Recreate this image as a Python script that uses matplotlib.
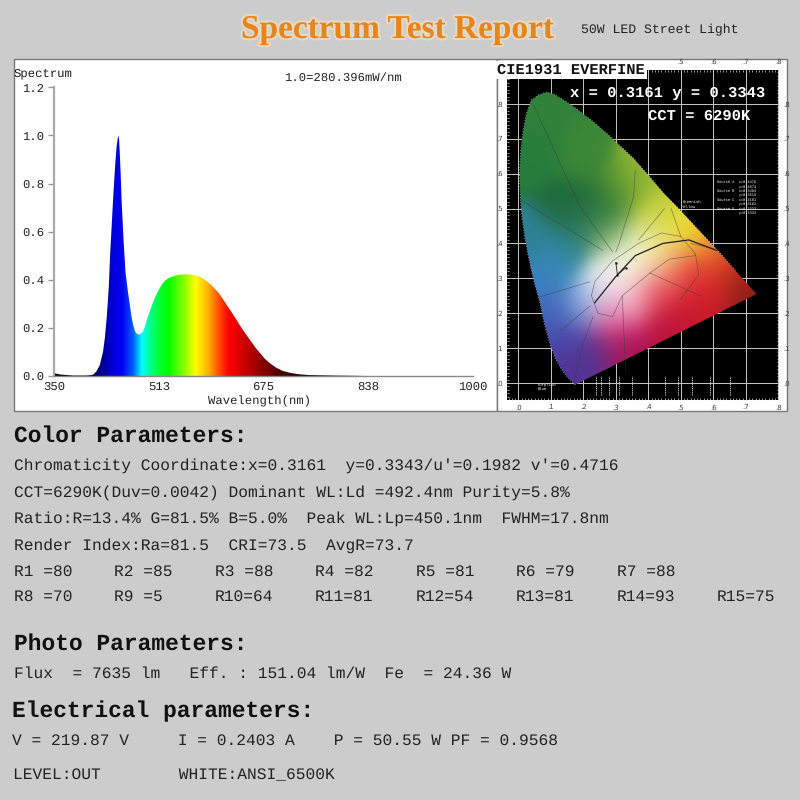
import numpy as np
import matplotlib
matplotlib.use('Agg')
import matplotlib.pyplot as plt
import matplotlib.patheffects as pe
from matplotlib.patches import Rectangle, Polygon

plt.rcParams['text.hinting'] = 'no_hinting'

# spectrum curve
wavelength = [350, 360, 380, 400, 405, 411, 416, 421, 426, 429, 432, 435, 437, 440, 442, 445, 447, 449, 450,
              451, 452, 454, 455, 458, 461, 465, 468, 470, 473, 476, 478, 481, 484, 488, 491, 494, 499, 504, 509,
              514, 519, 525, 531, 538, 545, 553, 560, 568, 576, 584, 592, 600, 608, 615, 623, 631, 638, 646, 654,
              662, 670, 677, 685, 695, 705, 718, 731, 745, 760, 783, 810, 835, 1000]
intensity = [.012, .006, .002, .002, .003, .006, .02, .045, .1, .16, .25, .37, .5, .65, .75, .88, .95, .99, 1.0,
             .98, .93, .8, .72, .56, .43, .344, .29, .25, .21, .184, .177, .172, .175, .184, .205, .233, .272, .309, .34,
             .365, .387, .402, .411, .417, .421, .423, .422, .419, .413, .40, .383, .362, .336, .307, .275, .243, .212, .18, .15,
             .12, .094, .072, .053, .034, .021, .012, .007, .004, .003, .002, .001, 0, 0]

# colour of the fill along the wavelength axis
stop_nm = [350, 400, 421, 440, 455, 472, 486, 500, 515, 527, 550, 569, 590, 605, 620, 640, 660, 681, 705, 750, 1000]
stop_r = [0, 0, 0, 0, 0, 0, 0, 0, 0, 0, 130, 255, 255, 255, 255, 215, 170, 120, 70, 10, 0]
stop_g = [0, 0, 0, 0, 0, 90, 255, 255, 255, 255, 255, 255, 170, 80, 0, 0, 0, 0, 0, 0, 0]
stop_b = [0, 40, 128, 215, 240, 255, 255, 130, 40, 0, 0, 0, 0, 0, 0, 0, 0, 0, 0, 0, 0]

y_ticks = [0.0, 0.2, 0.4, 0.6, 0.8, 1.0, 1.2]
x_ticks = [350, 513, 675, 838, 1000]

# CIE 1931 horseshoe outline
locus_x = [.175, .15, .133, .115, .10, .082, .067, .052, .04, .029, .02, .012, .007, .005, .005, .008, .015, .025, .04, .062, .087,
           .108, .128, .165, .20, .235, .272, .312, .355, .40, .447, .49, .53, .57, .61, .67, .733]
locus_y = [-.005, .018, .04, .07, .105, .165, .23, .28, .325, .375, .42, .475, .525, .575, .62, .665, .72, .77, .81, .825, .833,
           .828, .817, .795, .77, .745, .715, .68, .643, .595, .544, .503, .463, .423, .383, .32, .255]

# colour anchors inside the diagram
anchor_x = [.09, .05, .2, .15, .25, .32, .38, .43, .5, .42, .57, .62, .68, .73, .55, .55, .45, .42, .33, .3, .36, .25, .18, .15, .1, .2, .07, .13, .05, .18, .3, .36, .26, .43, .36, .31, .28, .48]
anchor_y = [.8, .65, .65, .5, .5, .55, .6, .5, .44, .43, .41, .36, .3, .26, .3, .22, .15, .25, .1, .18, .05, .07, .03, .12, .2, .22, .3, .35, .4, .42, .33, .36, .27, .36, .27, .23, .42, .32]
anchor_rgb = [(50, 130, 60), (40, 125, 60), (60, 135, 55), (30, 105, 60), (35, 110, 60), (90, 150, 50), (150, 185, 50), (190, 205, 50),
              (235, 225, 40), (225, 225, 130), (245, 190, 50), (225, 70, 40), (180, 40, 30), (130, 25, 20), (225, 40, 50), (200, 25, 40),
              (190, 20, 60), (220, 40, 70), (180, 20, 90), (225, 60, 130), (170, 15, 85), (95, 50, 140), (80, 50, 150), (75, 65, 165),
              (65, 100, 185), (120, 160, 220), (60, 130, 195), (50, 140, 180), (45, 130, 150), (45, 125, 110), (250, 252, 245),
              (250, 252, 225), (235, 240, 250), (245, 240, 170), (250, 215, 215), (245, 200, 225), (120, 170, 90), (240, 110, 90)]

# thin region boundaries and the black body curve
boundaries = [
    [(.045, .80), (.19, .505), (.29, .376)],
    [(.007, .525), (.26, .38)],
    [(.06, .245), (.22, .29)],
    [(.13, .15), (.22, .22)],
    [(.17, 0), (.2, .115), (.23, .19)],
    [(.32, .25), (.33, .035)],
    [(.36, .61), (.355, .535), (.31, .4), (.30, .375)],
    [(.45, .5), (.37, .41)],
    [(.225, .25), (.235, .29), (.29, .35), (.37, .40), (.44, .43), (.50, .42), (.545, .37), (.555, .31), (.50, .24)],
    [(.225, .25), (.245, .2), (.29, .19), (.32, .25), (.405, .315), (.465, .355), (.545, .365)],
    [(.405, .315), (.56, .25)],
    [(.50, .42), (.47, .50)],
    [(.53, .40), (.60, .385)],
]
locus_bb_x = [.235, .30, .36, .445, .525, .61]
locus_bb_y = [.23, .305, .365, .40, .41, .38]

# iso-temperature stubs under the purple line
stub_x = [.24, .255, .28, .31, .35, .45, .49, .535, .59, .65]
source_lines = ['Source A  x=0.4476', '          y=0.4074', 'Source B  x=0.3484', '          y=0.3516',
                'Source C  x=0.3101', '          y=0.3162', 'Source E  x=0.3333', '          y=0.3333']

title = 'Spectrum Test Report'
subtitle = '50W LED Street Light'

body_lines = [
    ("Chromaticity Coordinate:x=0.3161  y=0.3343/u'=0.1982 v'=0.4716", 14, 470),
    ('CCT=6290K(Duv=0.0042) Dominant WL:Ld =492.4nm Purity=5.8%', 14, 497),
    ('Ratio:R=13.4% G=81.5% B=5.0%  Peak WL:Lp=450.1nm  FWHM=17.8nm', 14, 523),
    ('Render Index:Ra=81.5  CRI=73.5  AvgR=73.7', 14, 550),
    ('Flux  = 7635 lm   Eff. : 151.04 lm/W  Fe  = 24.36 W', 14, 678),
    ('V = 219.87 V     I = 0.2403 A    P = 50.55 W PF = 0.9568', 12, 745),
    ('LEVEL:OUT        WHITE:ANSI_6500K', 13, 779),
]
headers = [('Color Parameters:', 14, 442), ('Photo Parameters:', 14, 650), ('Electrical parameters:', 12, 717)]

r_row1 = ['R1 =80', 'R2 =85', 'R3 =88', 'R4 =82', 'R5 =81', 'R6 =79', 'R7 =88']
r_row2 = ['R8 =70', 'R9 =5', 'R10=64', 'R11=81', 'R12=54', 'R13=81', 'R14=93', 'R15=75']
r_x = [14, 114, 215, 315, 416, 516, 617, 717]

W, H = 800, 800
BG = '#cccccc'
MONO = 'Liberation Mono'


def px_rect(left, top, right, bottom):
    """figure fractions [l, b, w, h] from pixel edges, y measured from the top"""
    return [left / W, 1 - bottom / H, (right - left) / W, (bottom - top) / H]


def put(x, y, s, **kw):
    kw.setdefault('family', MONO)
    kw.setdefault('color', '#1a1a1a')
    return fig.text(x / W, 1 - y / H, s, va='baseline', **kw)


fig = plt.figure(figsize=(8, 8), dpi=100, facecolor=BG)

# white panels behind both plots
for left, right in [(14, 497), (497, 787)]:
    fig.add_artist(Rectangle((left / W, 1 - 411 / H), (right - left) / W, 352 / H, transform=fig.transFigure,
                             facecolor='white', edgecolor='#777777', linewidth=1, zorder=-1))

# spectrum
ax = fig.add_axes(px_rect(54, 87.3, 473, 376))
ax.patch.set_alpha(0)
nm = np.linspace(350, 1000, 1301)
band = np.stack([np.interp(nm, stop_nm, stop_r), np.interp(nm, stop_nm, stop_g), np.interp(nm, stop_nm, stop_b)], axis=-1) / 255
im = ax.imshow(band[np.newaxis, :, :], extent=(350, 1000, 0, 1.2), aspect='auto', origin='lower', interpolation='bilinear')
area = ax.fill_between(wavelength, 0, intensity, facecolor='none', edgecolor='none')
im.set_clip_path(area.get_paths()[0], transform=ax.transData)
ax.set_xlim(350, 1000)
ax.set_ylim(0, 1.2)
ax.set_xticks(x_ticks)
ax.set_yticks(y_ticks)
ax.set_yticklabels(['%.1f' % v for v in y_ticks])
ax.tick_params(axis='y', colors='#999999', labelcolor='#222222', length=4, width=1, labelsize=8.8, pad=3)
ax.tick_params(axis='x', labelcolor='#222222', length=0, labelsize=8.8, pad=4)
for label in ax.get_xticklabels() + ax.get_yticklabels():
    label.set_family(MONO)
for side in ['top', 'right']:
    ax.spines[side].set_visible(False)
ax.spines['left'].set_color('#aaaaaa')
ax.spines['left'].set_linewidth(1.6)
ax.spines['bottom'].set_color('#888888')
ax.spines['bottom'].set_linewidth(1)
put(14, 77, 'Spectrum', fontsize=8.8)
put(284, 81, '1.0=280.396mW/nm', fontsize=8.8, color='#222222')
put(208, 405, 'Wavelength(nm)', fontsize=8.8, color='#222222')

# chromaticity diagram
cie = fig.add_axes(px_rect(507, 70, 779, 400), facecolor='black')
xlim = ((507 - 518.3) / 325, (779 - 518.3) / 325)
ylim = ((383 - 400) / 349, (383 - 70) / 349)
gx, gy = np.meshgrid(np.linspace(0, .75, 380), np.linspace(-.01, .85, 430))
ax_pts = np.asarray(anchor_x)[:, None, None]
ay_pts = np.asarray(anchor_y)[:, None, None]
weight = np.exp(-((gx - ax_pts) ** 2 + (gy - ay_pts) ** 2) / (2 * .05 ** 2)) + 1e-12
field = np.tensordot(np.asarray(anchor_rgb, dtype=float).T, weight, axes=(1, 0)) / weight.sum(axis=0)
field = np.moveaxis(field, 0, -1) / 255
shoe = cie.imshow(field, extent=(0, .75, -.01, .85), origin='lower', aspect='auto', zorder=2, interpolation='bilinear')
shoe.set_clip_path(Polygon(np.column_stack([locus_x, locus_y]), closed=True, transform=cie.transData))
cie.set_xlim(xlim)
cie.set_ylim(ylim)
cie.set_xticks(np.arange(0, .81, .1))
cie.set_yticks(np.arange(0, .81, .1))
cie.set_xticks(np.arange(-.03, .81, .01), minor=True)
cie.set_yticks(np.arange(-.04, .9, .01), minor=True)
cie.set_xticklabels(['.%d' % i for i in range(9)])
cie.set_yticklabels(['.%d' % i for i in range(9)])
cie.grid(True, which='major', color='#c9c9bd', linewidth=0.7, zorder=1)
cie.set_axisbelow(True)
cie.tick_params(which='minor', direction='in', length=1.5, width=.5, color='#dddddd', top=True, right=True)
cie.tick_params(which='major', direction='in', length=0, labelsize=5, labelcolor='#444444', pad=3,
                top=True, right=True, labeltop=True, labelright=True)
for i, tick in enumerate(cie.xaxis.get_major_ticks()):
    tick.label2.set_visible(i >= 5)
for side in cie.spines.values():
    side.set_visible(False)
for seg in boundaries:
    xs, ys = zip(*seg)
    cie.plot(xs, ys, color='#3a3a3a', linewidth=.4, alpha=.7, zorder=3)
cie.plot(locus_bb_x, locus_bb_y, color='#222222', linewidth=.9, zorder=4)
cie.plot(locus_x[:-1], locus_y[:-1], color='#dddddd', linewidth=.9, linestyle=(0, (.6, 1.6)), zorder=1.5)
cie.plot([.30, .305, .33], [.345, .31, .33], color='#222222', linewidth=.6, marker='.', markersize=1.5, zorder=4)
cie.vlines(stub_x, -.035, .02, color='#dddddd', linewidth=.6, linestyles=(0, (1.5, 1)), zorder=1.5)
for i, s in enumerate(source_lines):
    cie.text(.61, .575 - i * .0125, s, color='white', fontsize=2.6, family=MONO, va='center', zorder=5)
cie.text(.06, -.012, 'Purplish\nBlue', color='white', fontsize=2.8, family=MONO, va='center', zorder=5)
cie.text(.505, .512, 'Greenish\nYellow', color='white', fontsize=2.8, family=MONO, va='center', zorder=5)

t = put(497.5, 74, 'CIE1931 EVERFINE', fontsize=11.1, weight='bold', color='#111111')
t.set_bbox(dict(facecolor='white', edgecolor='none', pad=1.5))
put(570, 97, 'x = 0.3161 y = 0.3343', fontsize=11.15, weight='bold', color='white')
put(648, 120, 'CCT = 6290K', fontsize=11.15, weight='bold', color='white')

# heading
put(241, 38, title, family='Liberation Serif', weight='bold', fontsize=24, color='#e8851a',
    path_effects=[pe.withStroke(linewidth=3, foreground='#f3e2c6', alpha=.6)])
put(581, 33, subtitle, fontsize=9.42, color='#222222')

# report text
for s, x, y in headers:
    put(x, y, s, fontsize=16.5, weight='bold', color='#111111')
for s, x, y in body_lines:
    put(x, y, s, fontsize=11.67, color='#222222')
for s, x in zip(r_row1, r_x):
    put(x, 576, s, fontsize=11.67, color='#222222')
for s, x in zip(r_row2, r_x):
    put(x, 601, s, fontsize=11.67, color='#222222')

fig.savefig('out.png', dpi=100, facecolor=BG)
